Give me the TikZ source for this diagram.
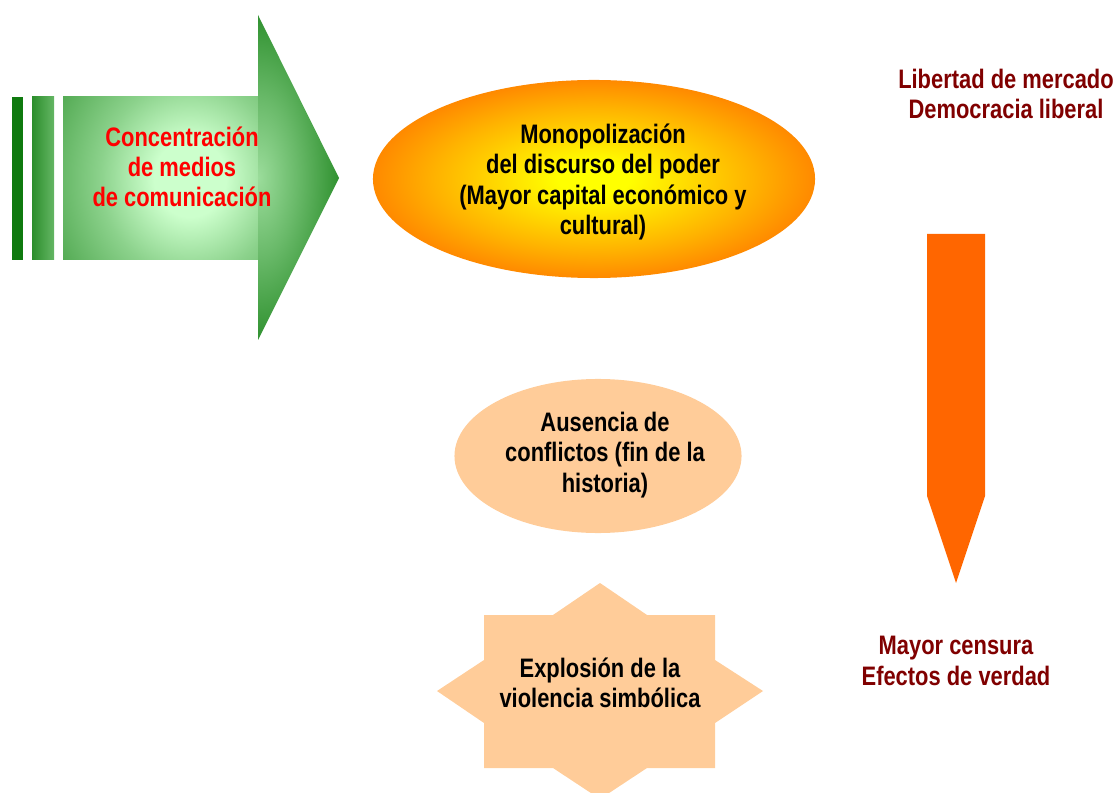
\documentclass[tikz,border=0pt]{standalone}
\usepackage{fontspec}
\setmainfont{Liberation Sans}[FakeStretch=0.82]
\usetikzlibrary{shapes.geometric}
\definecolor{TitleClr}{rgb}{1,0,0}
\definecolor{NoteClr}{HTML}{800000}
\definecolor{PeachClr}{HTML}{FFCC99}
\definecolor{OrangeClr}{HTML}{FF6600}
\definecolor{LeafClr}{HTML}{CCFFCC}
\definecolor{DarkLeafClr}{HTML}{0F7A0F}
\pgfdeclareradialshading{BodyShade}{\pgfpoint{0bp}{0bp}}{color(0bp)=(LeafClr); color(6bp)=(LeafClr); color(15bp)=(LeafClr!66!DarkLeafClr); color(25bp)=(LeafClr!36!DarkLeafClr); color(32bp)=(LeafClr!28!DarkLeafClr); color(50bp)=(LeafClr!28!DarkLeafClr)}
\pgfdeclareradialshading{HeadShade}{\pgfpoint{0bp}{0bp}}{color(0bp)=(LeafClr!74!DarkLeafClr); color(12bp)=(LeafClr!48!DarkLeafClr); color(24bp)=(LeafClr!20!DarkLeafClr); color(31bp)=(DarkLeafClr); color(50bp)=(DarkLeafClr)}
\pgfdeclareradialshading{SunShade}{\pgfpoint{0bp}{0bp}}{color(0bp)=(yellow); color(4bp)=(yellow); color(18bp)=(OrangeClr!50!yellow); color(31bp)=(OrangeClr); color(50bp)=(OrangeClr)}
\tikzset{
  BoldText/.style={font=\fontsize{19}{21.5}\selectfont\bfseries,align=center,inner sep=0pt},
  NoteText/.style={BoldText,text=NoteClr},
  SunBlob/.style={ellipse,shading=SunShade,minimum width=11.05cm,minimum height=4.95cm},
  PeachBlob/.style={ellipse,fill=PeachClr,minimum width=7.175cm,minimum height=3.85cm}
}

\begin{document}
\begin{tikzpicture}[x=0.025cm,y=-0.025cm]
\useasboundingbox (0,0) rectangle (1117,793);
\clip (0,0) rectangle (1117,793);

% green arrow (the lone points set the centre of each shading)
\fill[DarkLeafClr] (12,97) rectangle (23,260);
\shade[left color=DarkLeafClr!85!LeafClr,right color=DarkLeafClr!55!LeafClr] (32,97) rectangle (54,260);
\shade[shading=BodyShade] (40,16) (340,340) (63,97) rectangle (258.5,260);
\shade[shading=HeadShade] (177,178) (258,15) -- (339,178) -- (258,340) -- cycle;
\node[BoldText,text=TitleClr] (media) at (182,167) {Concentración\\de medios\\de comunicación};

% orange arrow
\fill[OrangeClr] (927,234) -- (985,234) -- (985,496) -- (956,583) -- (927,496) -- cycle;

\node[SunBlob] (power) at (594,179) {};
\node[BoldText] (powertext) at (603,182) {Monopolización\\del discurso del poder\\(Mayor capital económico y\\cultural)};

\node[PeachBlob] (history) at (598,456) {};
\node[BoldText] (historytext) at (605,455) {Ausencia de\\conflictos (fin de la\\historia)};

% star
\fill[PeachClr] (600,583) -- (647,615) -- (715,615) -- (715,660) -- (763,691) -- (715,723) -- (715,768) -- (647,768) -- (600,799) -- (553,768) -- (484,768) -- (484,723) -- (437,691) -- (484,660) -- (484,615) -- (553,615) -- cycle;
\node[BoldText] (violence) at (600,683) {Explosión de la\\violencia simbólica};

\node[NoteText] (market) at (1006,94) {Libertad de mercado\\Democracia liberal};
\node[NoteText] (censor) at (956,661) {Mayor censura\\Efectos de verdad};

\end{tikzpicture}
\end{document}
